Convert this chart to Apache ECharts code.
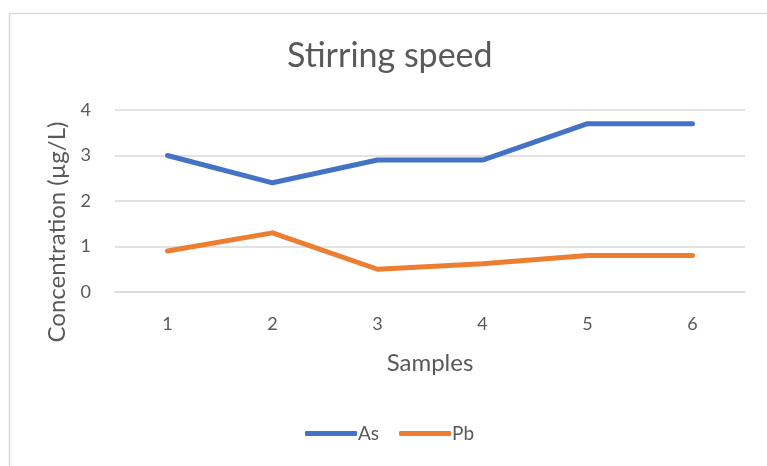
<!DOCTYPE html>
<html><head><meta charset="utf-8">
<script src="https://cdn.jsdelivr.net/npm/echarts@6/dist/echarts.min.js"></script>
<style>html,body{margin:0;padding:0;background:#fff}#c{width:767px;height:466px}</style>
</head><body><div id="c"></div>
<script>
const categories = ['1','2','3','4','5','6'];
const asValues = [3.0, 2.4, 2.9, 2.9, 3.7, 3.7];
const pbValues = [0.9, 1.3, 0.5, 0.62, 0.8, 0.8];
const yTicks = [0, 1, 2, 3, 4];

const FONT = 'Lato, "Open Sans", sans-serif';
const chart = echarts.init(document.getElementById('c'), null, {renderer: 'canvas'});
chart.setOption({
  animation: false,
  backgroundColor: '#fff',
  graphic: [{
    type: 'rect', left: 7, top: 11, z: -1,
    shape: {width: 800, height: 500},
    style: {fill: 'none', stroke: '#d9d9d9', lineWidth: 1.5}
  }],
  title: {
    text: 'Stirring speed', left: 282, top: 34,
    textStyle: {fontFamily: FONT, fontSize: 34, fontWeight: 'normal', color: '#595959'}
  },
  legend: {
    bottom: 18, left: 300, itemWidth: 52, itemHeight: 5, itemGap: 20,
    icon: 'roundRect',
    textStyle: {fontFamily: FONT, fontSize: 19, color: '#595959', padding: [0,0,0,-4]},
    data: ['As', 'Pb']
  },
  grid: {left: 115, right: 22, top: 110, bottom: 174},
  xAxis: {
    type: 'category', data: categories, boundaryGap: true,
    name: 'Samples', nameLocation: 'middle', nameGap: 59,
    nameTextStyle: {fontFamily: FONT, fontSize: 24, color: '#595959'},
    axisLine: {show: true, lineStyle: {color: '#d9d9d9', width: 1.5}},
    axisTick: {show: false},
    axisLabel: {fontFamily: FONT, fontSize: 18, color: '#595959', margin: 23}
  },
  yAxis: {
    type: 'value', min: yTicks[0], max: yTicks[yTicks.length-1], interval: 1,
    name: 'Concentration (µg/L)', nameLocation: 'middle', nameGap: 45, nameRotate: 90,
    nameTextStyle: {fontFamily: FONT, fontSize: 24, color: '#595959', padding: [0, 62, 0, 0]},
    axisLine: {show: false}, axisTick: {show: false},
    axisLabel: {fontFamily: FONT, fontSize: 18, color: '#595959', margin: 24},
    splitLine: {lineStyle: {color: '#d9d9d9', width: 1.5}}
  },
  series: [
    {name: 'As', type: 'line', data: asValues, symbol: 'none',
     lineStyle: {color: '#4472c4', width: 5, cap: 'round', join: 'round'}, itemStyle: {color: '#4472c4'}},
    {name: 'Pb', type: 'line', data: pbValues, symbol: 'none',
     lineStyle: {color: '#ed7d31', width: 5, cap: 'round', join: 'round'}, itemStyle: {color: '#ed7d31'}}
  ]
});
</script></body></html>
